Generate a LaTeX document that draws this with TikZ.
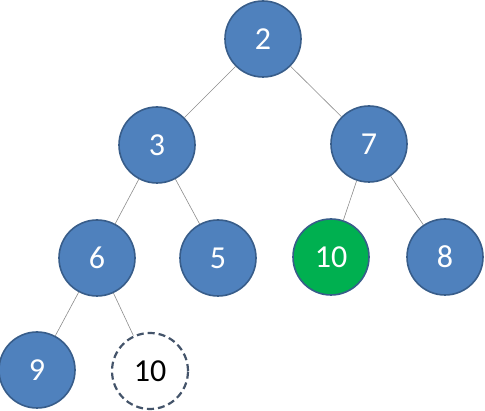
\documentclass[tikz,border=0pt]{standalone}
\usepackage{fontspec}
\setmainfont{Carlito}
\usetikzlibrary{positioning}
\definecolor{heapblue}{HTML}{4F81BD}
\definecolor{heapedge}{HTML}{385D8A}
\definecolor{heapgreen}{HTML}{00B050}
\definecolor{heapdash}{HTML}{44546A}
\definecolor{heapline}{HTML}{8C8C8C}
\begin{document}
\begin{tikzpicture}[
  x=1pt, y=-1pt,
  font=\fontsize{32}{34}\selectfont,
  key/.style={circle, draw=heapedge, line width=1.6pt, minimum size=76pt, inner sep=0pt, fill=heapblue, text=white},
  moved/.style={key, fill=heapgreen},
  slot/.style={circle, draw=heapdash, line width=2.2pt, dash pattern=on 7pt off 4pt, minimum size=76pt, inner sep=0pt, fill=white, text=black},
  edge/.style={draw=heapline, line width=0.6pt}
]
\useasboundingbox (0,0) rectangle (485,411);
% level 0
\node[key] (n2) at (263,39) {2};
% level 1
\node[key] (n3) at (157,145) {3};
\node[key] (n7) at (369,144) {7};
% level 2
\node[key] (n6) at (97,258) {6};
\node[key] (n5) at (218,258) {5};
\node[moved] (n10) at (331,257) {10};
\node[key] (n8) at (445,257) {8};
% level 3
\node[key] (n9) at (37,370) {9};
\node[slot] (free) at (150,371) {10};

\draw[edge] (n2) -- (n3);
\draw[edge] (n2) -- (n7);
\draw[edge] (n3) -- (n6);
\draw[edge] (n3) -- (n5);
\draw[edge] (n7) -- (n10);
\draw[edge] (n7) -- (n8);
\draw[edge] (n6) -- (n9);
\draw[edge] (n6) -- (free);
\end{tikzpicture}
\end{document}
